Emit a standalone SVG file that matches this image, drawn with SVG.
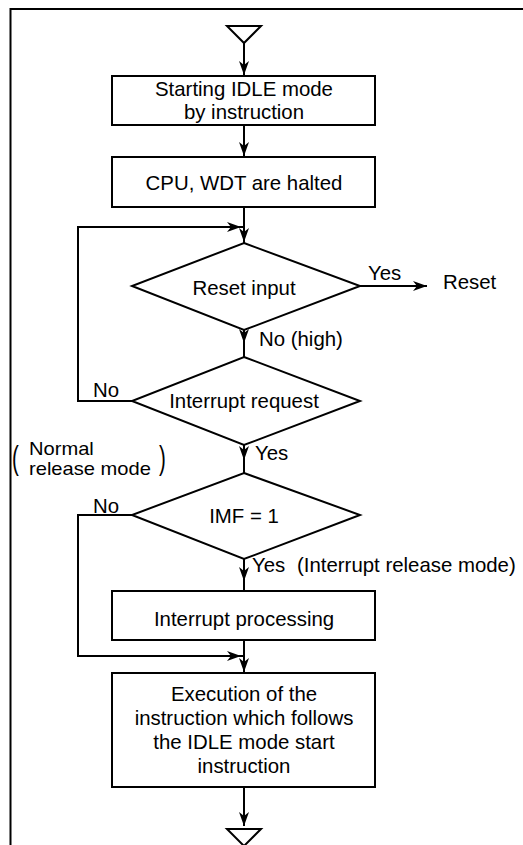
<svg xmlns="http://www.w3.org/2000/svg" width="523" height="845" viewBox="0 0 523 845">
<style>
.s{fill:none;stroke:#000;stroke-width:2}
.b{fill:#fff;stroke:#000;stroke-width:2}
text{font-family:"Liberation Sans",Arial,sans-serif;font-size:20.4px;fill:#000}
.c{text-anchor:middle}
.n{font-size:17.5px}
.p{font-size:34px}
.ae{marker-end:url(#ah)}
.am{marker-mid:url(#ah)}
</style>
<defs>
<marker id="ah" markerUnits="userSpaceOnUse" markerWidth="16" markerHeight="12" viewBox="-15 -6 16 12" refX="0" refY="0" orient="auto">
<path d="M0,0 L-14,-5 L-10,0 L-14,5 Z" fill="#000"/>
</marker>
</defs>
<g id="frame">
<path class="s" d="M10.5,845 V9 H523"/>
</g>
<g id="connectors">
<path class="s ae" d="M244,43 V75"/>
<path class="s ae" d="M244,125 V156"/>
<path class="s" d="M244,207 V243"/>
<path class="s ae" d="M244,215 V242"/>
<path class="s" d="M132,401 H78 V227 H244"/>
<path class="s ae" d="M220,227 H241"/>
<path class="s ae" d="M360,286 H427"/>
<path class="s am" d="M244,330 V343 V357"/>
<path class="s am" d="M244,445 V460 V473"/>
<path class="s am" d="M244,559 V581 V591"/>
<path class="s" d="M132,515 H78 V656 H244"/>
<path class="s ae" d="M220,656 H241"/>
<path class="s" d="M244,640 V673"/>
<path class="s ae" d="M244,650 V672"/>
<path class="s ae" d="M244,787 V826"/>
</g>
<g id="start">
<polygon class="b" points="227,26 261,26 244,43"/>
</g>
<g id="box1">
<rect class="b" x="112" y="76" width="263" height="49"/>
<text class="c" x="244" y="96">Starting IDLE mode</text>
<text class="c" x="244" y="119">by instruction</text>
</g>
<g id="box2">
<rect class="b" x="112" y="157" width="263" height="50"/>
<text class="c" x="244" y="190">CPU, WDT are halted</text>
</g>
<g id="d1">
<polygon class="b" points="244,243 360,286 244,330 132,286"/>
<text class="c" x="244" y="295">Reset input</text>
</g>
<g id="reset">
<text x="368" y="280">Yes</text>
<text x="443" y="289">Reset</text>
</g>
<g id="d2">
<polygon class="b" points="244,357 360,401 244,445 132,401"/>
<text class="c" x="244" y="408">Interrupt request</text>
<text x="259" y="346">No (high)</text>
<text x="93" y="397">No</text>
<text x="255" y="460">Yes</text>
</g>
<g id="note-normal">
<text class="p" x="0" y="0" transform="translate(12,469) scale(0.6,1)">(</text>
<text class="n" x="0" y="0" transform="translate(29,455) scale(1.15,1)">Normal</text>
<text class="n" x="0" y="0" transform="translate(29,475) scale(1.15,1)">release mode</text>
<text class="p" x="0" y="0" transform="translate(159,469) scale(0.6,1)">)</text>
</g>
<g id="d3">
<polygon class="b" points="244,473 360,515 244,559 132,515"/>
<text class="c" x="244" y="523">IMF = 1</text>
<text x="93" y="513">No</text>
<text x="252" y="572">Yes</text>
<text x="297" y="572">(Interrupt release mode)</text>
</g>
<g id="box3">
<rect class="b" x="112" y="591" width="263" height="49"/>
<text class="c" x="244" y="626">Interrupt processing</text>
</g>
<g id="box4">
<rect class="b" x="112" y="673" width="263" height="114"/>
<text class="c" x="244" y="701">Execution of the</text>
<text class="c" x="244" y="725">instruction which follows</text>
<text class="c" x="244" y="749">the IDLE mode start</text>
<text class="c" x="244" y="773">instruction</text>
</g>
<g id="end">
<polygon class="b" points="227,829 261,829 244,846"/>
</g>
</svg>
